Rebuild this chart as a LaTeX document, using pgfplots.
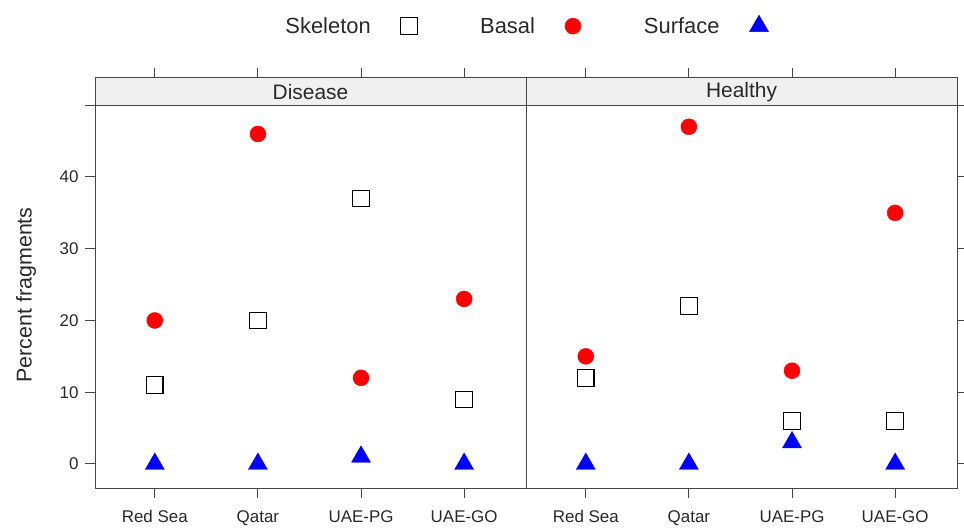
\documentclass[border=0pt]{standalone}
\usepackage{pgfplots}
\pgfplotsset{compat=1.18}
\usepackage{fontspec}
\setmainfont{Liberation Sans}
\definecolor{stripgray}{RGB}{240,240,240}
\definecolor{txt}{RGB}{40,40,40}
\definecolor{axcol}{RGB}{70,70,70}
\pgfplotsset{panel/.style={
  width=431bp,height=410bp,scale only axis,
  xmin=0.42,xmax=4.6,ymin=-3.35,ymax=53.8,
  xtick={1,2,3,4}, xticklabels={Red Sea,Qatar,UAE-PG,UAE-GO},
  xtick pos=both, xticklabel pos=bottom,
  ytick={0,10,20,30,40,50},
  tick align=outside, major tick length=10bp,
  axis line style={axcol, line width=1bp},
  every tick/.style={axcol,line width=1bp},
  ticklabel style={font=\fontsize{17}{19}\selectfont, text=txt},
  xticklabel style={yshift=-9bp},
  yticklabel style={xshift=-3bp},
  axis on top, clip=false,
}}
\begin{document}
\begin{tikzpicture}
\useasboundingbox (0,0) rectangle (964bp,528bp);
\begin{axis}[panel, at={(95bp,40bp)}, anchor=south west,
  ytick pos=left, yticklabels={0,10,20,30,40,{}},
  ylabel={Percent fragments},
  ylabel style={at={(axis description cs:-0.160,0.471)}, anchor=center, font=\fontsize{21.5}{24}\selectfont, text=txt},
  legend columns=3, legend plot pos=right,
  legend style={draw=none, fill=none, at={(axis description cs:1,1)}, anchor=center, yshift=52bp,
    font=\fontsize{22}{24}\selectfont, text=txt,
    /tikz/every odd column/.append style={column sep=28bp},
    /tikz/every even column/.append style={column sep=61bp}},
]
\fill[stripgray] ({rel axis cs:0,0}|-{axis cs:1,50}) rectangle (rel axis cs:1,1);
\draw[axcol, line width=1bp] ({rel axis cs:0,0}|-{axis cs:1,50}) -- ({rel axis cs:1,0}|-{axis cs:1,50});
\node[font=\fontsize{21}{24}\selectfont, text=txt] at ({rel axis cs:0.5,0}|-{axis cs:1,51.9}) {Disease};
\addplot[only marks, mark=square*, mark size=8.2bp, mark options={fill=white, draw=black, line width=1.1bp, line join=miter}] coordinates {(1,11)(2,20)(3,37)(4,9)};
\addplot[only marks, mark=*, mark size=8bp, red] coordinates {(1,20)(2,46)(3,12)(4,23)};
\addplot[only marks, mark=triangle*, mark size=11bp, blue] coordinates {(1,0)(2,0)(3,1)(4,0)};
\legend{Skeleton,Basal,Surface}
\end{axis}
\begin{axis}[panel, at={(526bp,40bp)}, anchor=south west,
  ytick pos=right, yticklabels={},
]
\fill[stripgray] ({rel axis cs:0,0}|-{axis cs:1,50}) rectangle (rel axis cs:1,1);
\draw[axcol, line width=1bp] ({rel axis cs:0,0}|-{axis cs:1,50}) -- ({rel axis cs:1,0}|-{axis cs:1,50});
\node[font=\fontsize{21}{24}\selectfont, text=txt] at ({rel axis cs:0.5,0}|-{axis cs:1,51.9}) {Healthy};
\addplot[only marks, mark=square*, mark size=8.2bp, mark options={fill=white, draw=black, line width=1.1bp, line join=miter}] coordinates {(1,12)(2,22)(3,6)(4,6)};
\addplot[only marks, mark=*, mark size=8bp, red] coordinates {(1,15)(2,47)(3,13)(4,35)};
\addplot[only marks, mark=triangle*, mark size=11bp, blue] coordinates {(1,0)(2,0)(3,3)(4,0)};
\end{axis}
\end{tikzpicture}
\end{document}
